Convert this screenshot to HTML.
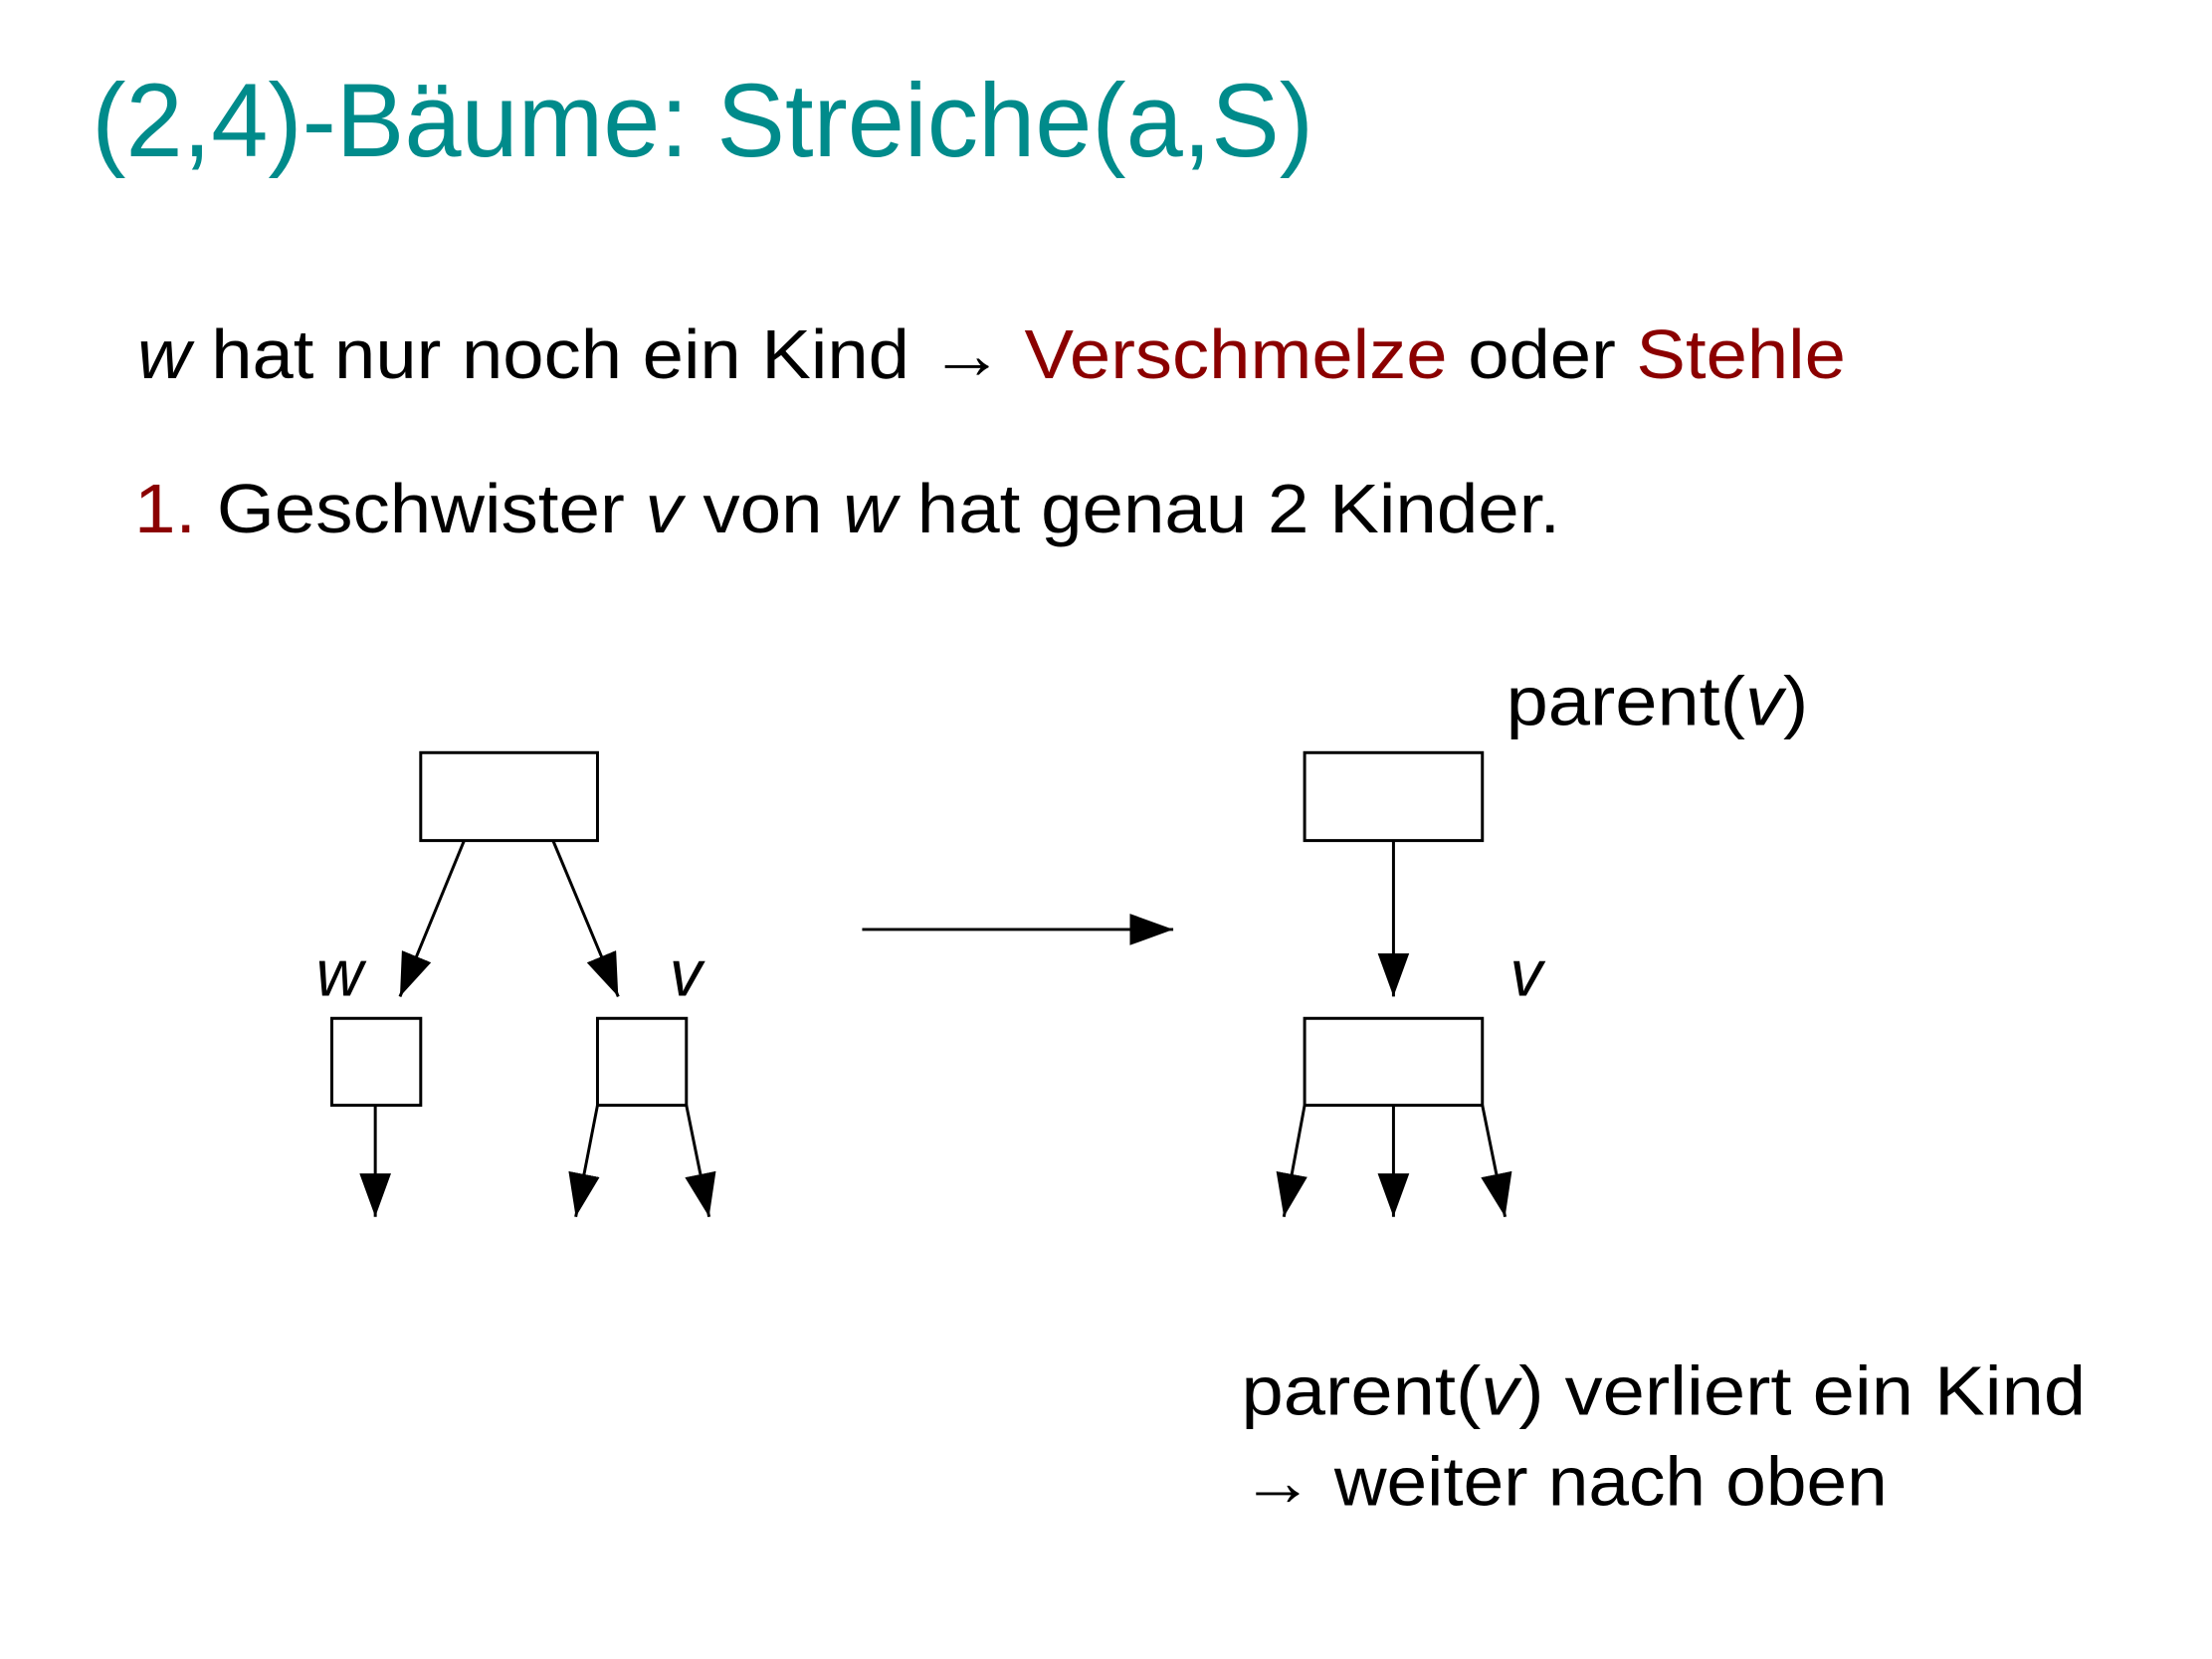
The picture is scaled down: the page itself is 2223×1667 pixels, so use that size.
<!DOCTYPE html>
<html><head><meta charset="utf-8"><style>
html,body{margin:0;padding:0;background:#fff;}
svg{display:block;}
text{font-family:"Liberation Sans",sans-serif;}
</style></head><body>
<svg width="2223" height="1667" viewBox="0 0 2223 1667" xmlns="http://www.w3.org/2000/svg">
<defs>
<marker id="ah" markerWidth="44" markerHeight="32" refX="44" refY="16" orient="auto" markerUnits="userSpaceOnUse">
<path d="M0,0 L44,16 L0,32 Z" fill="#000"/>
</marker>
</defs>
<g transform="scale(0.9925)">
<text x="93" y="158" font-size="106" fill="#008b8b" textLength="1237" lengthAdjust="spacingAndGlyphs">(2,4)-Bäume: Streiche(a,S)</text>
<text x="139" y="383" font-size="70" textLength="1730" lengthAdjust="spacingAndGlyphs"><tspan font-style="italic">w</tspan> hat nur noch ein Kind → <tspan fill="#8b0000">Verschmelze</tspan> oder <tspan fill="#8b0000">Stehle</tspan></text>
<text x="136" y="539" font-size="70" textLength="1444" lengthAdjust="spacingAndGlyphs"><tspan fill="#8b0000">1.</tspan> Geschwister <tspan font-style="italic">v</tspan> von <tspan font-style="italic">w</tspan> hat genau 2 Kinder.</text>

<g fill="none" stroke="#000" stroke-width="3">
<rect x="426" y="762" width="179" height="89"/>
<rect x="336" y="1031" width="90" height="88"/>
<rect x="605" y="1031" width="90" height="88"/>
<rect x="1321" y="762" width="180" height="89"/>
<rect x="1321" y="1031" width="180" height="88"/>
<g marker-end="url(#ah)">
<line x1="470" y1="851" x2="405" y2="1009"/>
<line x1="560" y1="851" x2="626" y2="1009"/>
<line x1="380" y1="1119" x2="380" y2="1232"/>
<line x1="605" y1="1119" x2="583" y2="1232"/>
<line x1="695" y1="1119" x2="718" y2="1232"/>
<line x1="873" y1="941" x2="1188" y2="941"/>
<line x1="1411" y1="851" x2="1411" y2="1009"/>
<line x1="1321" y1="1119" x2="1300" y2="1232"/>
<line x1="1411" y1="1119" x2="1411" y2="1232"/>
<line x1="1501" y1="1119" x2="1524" y2="1232"/>
</g>
</g>
<text x="320" y="1008" font-size="66" font-style="italic">w</text>
<text x="678" y="1008" font-size="66" font-style="italic">v</text>
<text x="1529" y="1008" font-size="66" font-style="italic">v</text>
<text x="1525" y="734" font-size="70" textLength="306" lengthAdjust="spacingAndGlyphs">parent(<tspan font-style="italic">v</tspan>)</text>
<text x="1257" y="1432" font-size="70" textLength="855" lengthAdjust="spacingAndGlyphs">parent(<tspan font-style="italic">v</tspan>) verliert ein Kind</text>
<text x="1257" y="1524" font-size="70" textLength="654" lengthAdjust="spacingAndGlyphs">→ weiter nach oben</text>
</g>
</svg>
</body></html>
